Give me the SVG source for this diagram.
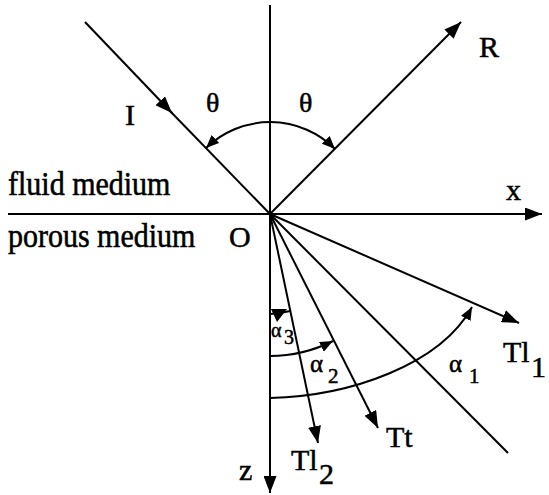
<svg xmlns="http://www.w3.org/2000/svg" width="549" height="495" viewBox="0 0 549 495">
<style>
text{font-family:"Liberation Serif","Times New Roman",Times,serif;fill:#000;stroke:#000;stroke-width:0.5}
.ln{stroke:#000;stroke-width:2;fill:none}
.big{font-size:30px}
.th{font-size:28px}
.al{font-size:25px}
.sub{font-size:21px}
.a3{font-size:20px}
</style>
<defs>
<marker id="ah" markerUnits="userSpaceOnUse" markerWidth="18" markerHeight="13" refX="17" refY="6.5" orient="auto-start-reverse">
<path d="M0,0 L17,6.5 L0,13 z" fill="#000"/>
</marker>
<marker id="sh" markerUnits="userSpaceOnUse" markerWidth="14" markerHeight="11" refX="13" refY="5.5" orient="auto-start-reverse">
<path d="M0,0 L13,5.5 L0,11 z" fill="#000"/>
</marker>
</defs>
<g id="connectors">
<line id="x-axis" class="ln" x1="8" y1="214" x2="542" y2="214" marker-end="url(#ah)"/>
<line id="z-axis" class="ln" x1="270" y1="5" x2="270" y2="493" marker-end="url(#ah)"/>
<line id="ray-I-a" class="ln" x1="85" y1="22" x2="172" y2="113" marker-end="url(#ah)"/>
<line id="ray-I-b" class="ln" x1="170" y1="111" x2="270" y2="214"/>
<line id="ray-I-cont" class="ln" x1="270" y1="214" x2="508" y2="453"/>
<line id="ray-R" class="ln" x1="270" y1="214" x2="461" y2="22" marker-end="url(#ah)"/>
<line id="ray-Tl1" class="ln" x1="270" y1="214" x2="519" y2="323" marker-end="url(#ah)"/>
<line id="ray-Tt" class="ln" x1="270" y1="214" x2="378" y2="428" marker-end="url(#ah)"/>
<line id="ray-Tl2" class="ln" x1="270" y1="214" x2="318" y2="443" marker-end="url(#ah)"/>
<path id="arc-theta" class="ln" d="M206,148 A92,92 0 0 1 335,149" marker-start="url(#sh)" marker-end="url(#sh)"/>
<path id="arc-a3" class="ln" d="M290,311 A100,100 0 0 1 270,314"/>
<polygon id="arc-a3-head" points="271,309 287,309 277,322" fill="#000"/>
<path id="arc-a2" class="ln" d="M270,356 A142,142 0 0 0 333,341" marker-end="url(#sh)"/>
<path id="arc-a1" class="ln" d="M270,398 C350,396 440,365 472,307" marker-end="url(#sh)"/>
</g>
<g id="labels" font-family="Liberation Serif, Times New Roman, serif">
<g id="label-I"><text class="big" x="125" y="125">I</text></g>
<g id="label-theta-l"><text class="th" x="206" y="112">θ</text></g>
<g id="label-theta-r"><text class="th" x="299" y="112">θ</text></g>
<g id="label-R"><text class="big" x="479" y="57">R</text></g>
<g id="label-fluid"><text class="big" transform="translate(8,195) scale(1,1.15)">fluid medium</text></g>
<g id="label-porous"><text class="big" transform="translate(8,247) scale(1,1.15)">porous medium</text></g>
<g id="label-O"><text class="big" x="229" y="247">O</text></g>
<g id="label-x"><text class="big" x="506" y="200">x</text></g>
<g id="label-z"><text class="big" x="239" y="480">z</text></g>
<g id="label-Tl2"><text class="big" x="291" y="470">Tl<tspan x="319" y="484">2</tspan></text></g>
<g id="label-Tt"><text class="big" x="386" y="447">Tt</text></g>
<g id="label-Tl1"><text class="big" x="503" y="362">Tl<tspan x="531" y="377">1</tspan></text></g>
<g id="label-a1"><text class="al" x="449" y="372">α<tspan class="sub" x="469" y="383">1</tspan></text></g>
<g id="label-a2"><text class="al" x="310" y="372">α<tspan class="sub" x="328" y="383">2</tspan></text></g>
<g id="label-a3"><text class="a3" x="271" y="337">α<tspan x="284" y="344">3</tspan></text></g>
</g>
</svg>
